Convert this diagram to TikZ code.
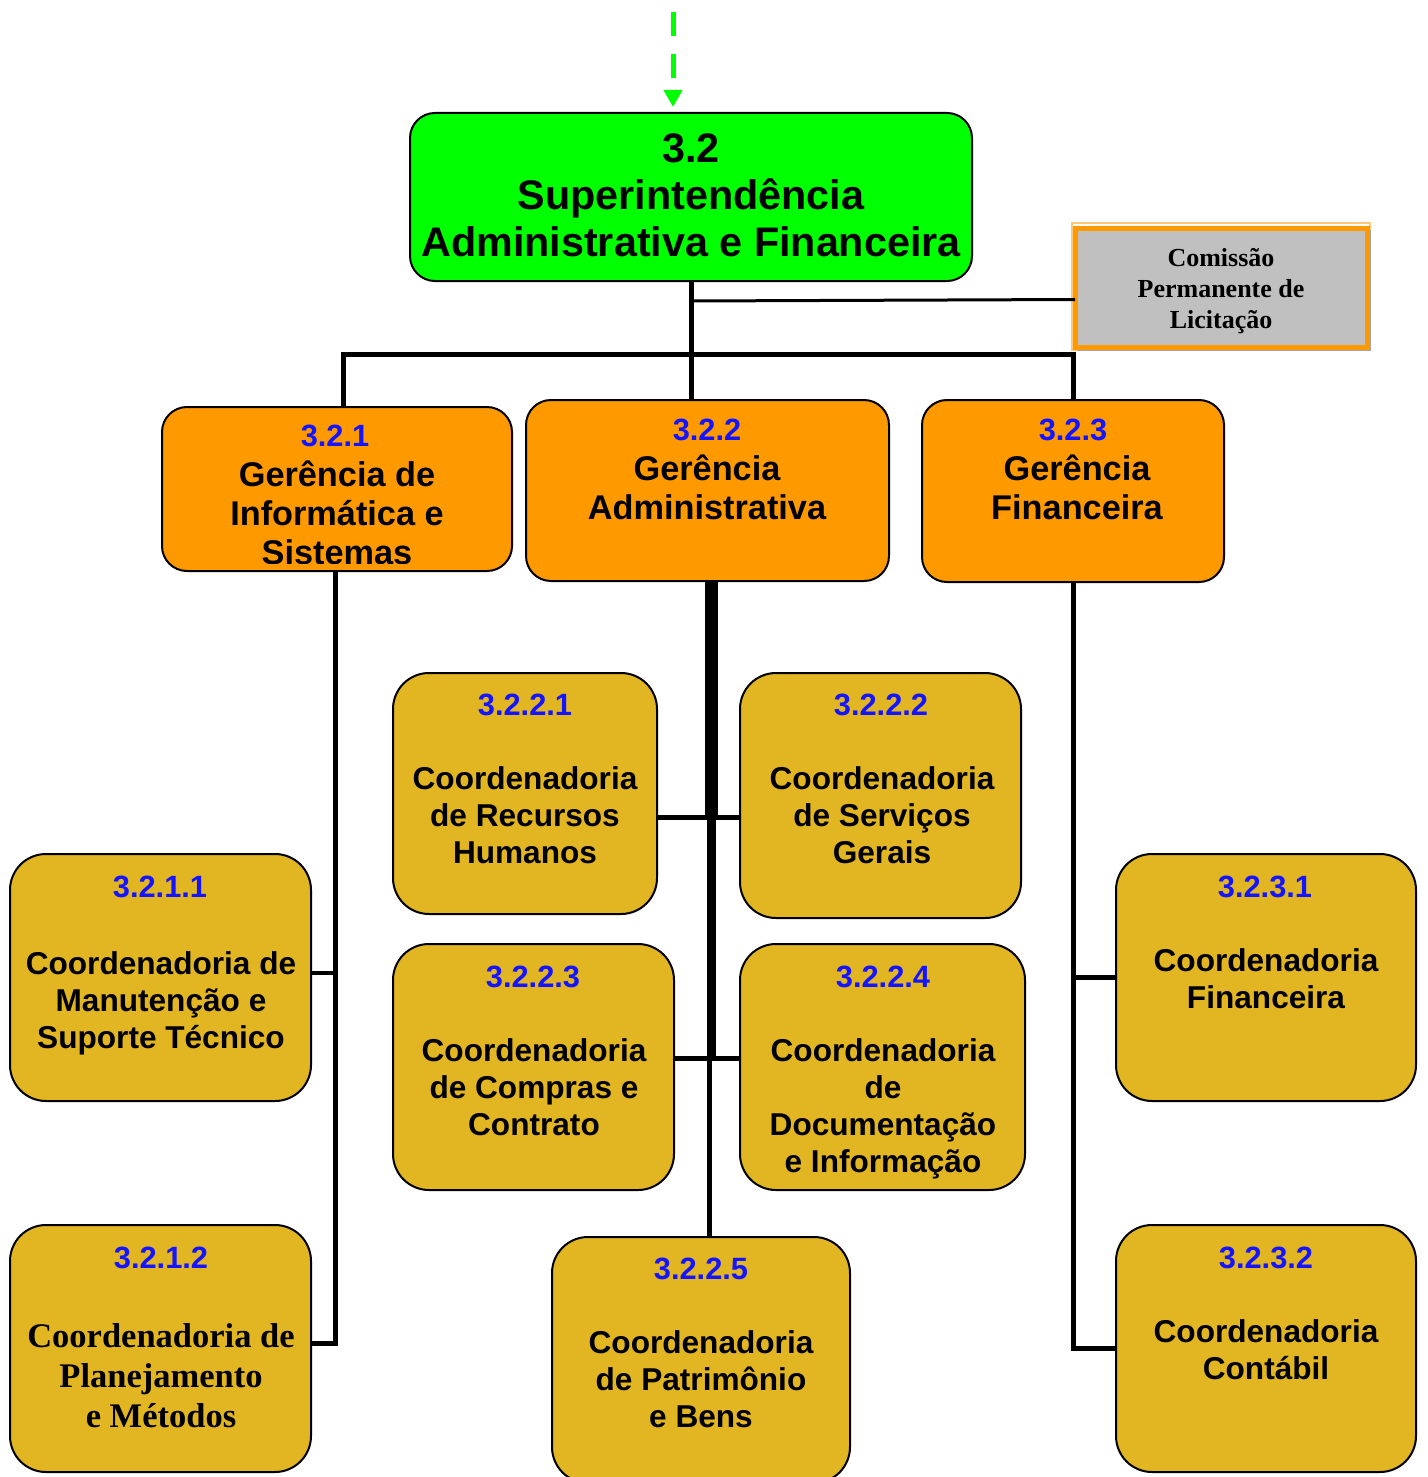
\documentclass[tikz,border=0pt]{standalone}
\usepackage{fontspec}
\setmainfont{Liberation Sans}
\newfontfamily\timesb{Liberation Serif}
\usetikzlibrary{arrows.meta}
\definecolor{topgreen}{RGB}{0,255,0}
\definecolor{mgrorange}{RGB}{255,153,0}
\definecolor{lightorange}{RGB}{255,200,120}
\definecolor{coordgold}{RGB}{225,182,34}
\definecolor{numblue}{RGB}{20,20,255}
\definecolor{clpgray}{RGB}{192,192,192}
\newcommand\mlines[1]{\begin{tabular}[t]{@{}c@{}}#1\end{tabular}}
\begin{document}
\begin{tikzpicture}[x=1pt,y=-1pt,
 box/.style={draw=black,line width=2pt,inner sep=0pt,outer sep=0pt},
 supbox/.style={box,fill=topgreen,rounded corners=25pt},
 mgrbox/.style={box,fill=mgrorange,rounded corners=25pt},
 crdbox/.style={box,fill=coordgold,rounded corners=36pt},
 clpbox/.style={draw=mgrorange,fill=clpgray,line width=5pt,inner sep=0pt,outer sep=0pt},
 num/.style={anchor=base,inner sep=0pt,text=numblue,font=\bfseries\fontsize{30.8}{36}\selectfont},
 body/.style={anchor=base,inner sep=0pt,font=\bfseries\fontsize{31.6}{37}\selectfont},
 mbody/.style={anchor=base,inner sep=0pt,font=\bfseries\fontsize{34.3}{39}\selectfont},
 conn/.style={draw=black,line width=5pt},
 thinconn/.style={draw=black,line width=3pt},
 greenarrow/.style={draw=topgreen,line width=5pt,dash pattern=on 24pt off 18pt,
   -{Triangle[width=18pt,length=17pt]},shorten >=6pt}
]
\useasboundingbox (0,0) rectangle (1427,1477);
\clip (0,0) rectangle (1427,1477);

% ---------- boxes ----------
\node[supbox,minimum width=562pt,minimum height=168pt] (sup) at (691,197) {};
\draw[lightorange,line width=1.5pt] (1072,223) rectangle (1370,350);
\draw[gray!70,line width=1.2pt] (1078,231) rectangle (1370,350);
\node[clpbox,minimum width=292pt,minimum height=119pt] (clp) at (1221,287.5) {};

\node[mgrbox,minimum width=350pt,minimum height=164pt] (g1) at (337,489) {};
\node[mgrbox,minimum width=363pt,minimum height=181pt] (g2) at (707.5,490.5) {};
\node[mgrbox,minimum width=302pt,minimum height=182pt] (g3) at (1073,491) {};

\node[crdbox,minimum width=264pt,minimum height=241pt] (c2221) at (525,793.5) {};
\node[crdbox,minimum width=281pt,minimum height=245pt] (c2222) at (880.5,795.5) {};
\node[crdbox,minimum width=281pt,minimum height=246pt] (c2223) at (533.5,1067) {};
\node[crdbox,minimum width=285pt,minimum height=246pt] (c2224) at (882.5,1067) {};
\node[crdbox,minimum width=298pt,minimum height=246pt] (c2225) at (701,1360) {};
\node[crdbox,minimum width=301pt,minimum height=247pt] (c2111) at (160.5,977.5) {};
\node[crdbox,minimum width=301pt,minimum height=247pt] (c2112) at (160.5,1348.5) {};
\node[crdbox,minimum width=300pt,minimum height=247pt] (c2321) at (1266,977.5) {};
\node[crdbox,minimum width=300pt,minimum height=247pt] (c2322) at (1266,1348.5) {};

% ---------- connectors ----------
\coordinate (arrtop) at (673,12);
\draw[greenarrow] (arrtop) -- (arrtop |- sup.north);

\draw[conn] (sup.south) -- (sup.south |- g2.north);
\draw[thinconn] ([yshift=-20pt]sup.south) -- ([yshift=-12pt]clp.west);
\coordinate (bar) at (691,354);
\draw[conn] ([xshift=6pt]g1.north) |- (bar) -| (g3.north);

% left branch
\coordinate (lt) at ([xshift=-2pt]g1.south);
\coordinate (b2111) at ([yshift=5pt]c2111.east);
\coordinate (b2112) at ([yshift=5pt]c2112.east);
\draw[conn] (lt) |- (b2112);
\draw[conn,line width=4pt] (b2111) -- (lt |- b2111);

% centre branch
\coordinate (ct) at ([xshift=3.5pt]g2.south);
\coordinate (bA) at (711,817);
\coordinate (bB) at (710,1058);
\draw[conn,line width=13pt] (ct) -- (ct |- bA);
\draw[conn,line width=9pt] (bA) -- (bA |- bB);
\draw[conn] ([xshift=-0.5pt]bB) -- ([xshift=-0.5pt]bB |- c2225.north);
\draw[conn] (c2221.east |- bA) -- (c2222.west |- bA);
\draw[conn] (c2223.east |- bB) -- (c2224.west |- bB);

% right branch
\draw[conn] (g3.south) |- (c2322.west);
\draw[conn] (g3.south |- c2321.west) -- (c2321.west);

% ---------- texts ----------
\node[anchor=base,inner sep=0pt,font=\bfseries\fontsize{41.3}{47}\selectfont] (tsup) at (691,162)
  {\mlines{3.2\\Superintendência\\Administrativa e Financeira}};
\node[anchor=base,inner sep=0pt,font=\timesb\bfseries\fontsize{26}{31}\selectfont] (tclp) at (1221,266)
  {\mlines{Comissão\\Permanente de\\Licitação}};

\node[num] (n1) at (335,446) {3.2.1};
\begin{scope}
\clip (162,400) rectangle (512,563);
\node[mbody] (t1) at (337,486) {\mlines{Gerência de\\Informática e\\Sistemas}};
\end{scope}
\node[num] (n2) at (707,440) {3.2.2};
\node[mbody] (t2) at (707,480) {\mlines{Gerência\\Administrativa}};
\node[num] (n3) at (1073,440) {3.2.3};
\node[mbody] (t3) at (1077,480) {\mlines{Gerência\\Financeira}};

\node[num] (n2221) at (525,715) {3.2.2.1};
\node[body] (t2221) at (525,789) {\mlines{Coordenadoria\\de Recursos\\Humanos}};
\node[num] (n2222) at (881,715) {3.2.2.2};
\node[body] (t2222) at (882,789) {\mlines{Coordenadoria\\de Serviços\\Gerais}};
\node[num] (n2223) at (533,987) {3.2.2.3};
\node[body] (t2223) at (534,1061) {\mlines{Coordenadoria\\de Compras e\\Contrato}};
\node[num] (n2224) at (883,987) {3.2.2.4};
\node[body] (t2224) at (883,1061) {\mlines{Coordenadoria\\de\\Documentação\\e Informação}};
\node[num] (n2225) at (701,1279) {3.2.2.5};
\node[body] (t2225) at (701,1353) {\mlines{Coordenadoria\\de Patrimônio\\e Bens}};

\node[num] (n2111) at (160,897) {3.2.1.1};
\node[body] (t2111) at (161,974) {\mlines{Coordenadoria de\\Manutenção e\\Suporte Técnico}};
\node[num] (n2112) at (161,1268) {3.2.1.2};
\node[anchor=base,inner sep=0pt,font=\timesb\bfseries\fontsize{34.5}{40}\selectfont] (t2112) at (161,1347)
  {\mlines{Coordenadoria de\\Planejamento\\e Métodos}};

\node[num] (n2321) at (1265,897) {3.2.3.1};
\node[body] (t2321) at (1266,971) {\mlines{Coordenadoria\\Financeira}};
\node[num] (n2322) at (1266,1268) {3.2.3.2};
\node[body] (t2322) at (1266,1342) {\mlines{Coordenadoria\\Contábil}};
\end{tikzpicture}
\end{document}
